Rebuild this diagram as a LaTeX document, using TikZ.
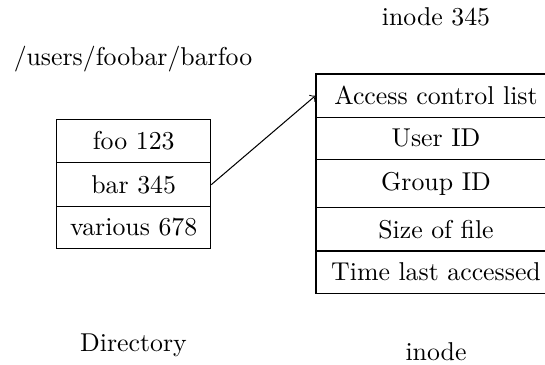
\documentclass[tikz,border=0pt]{standalone}
\usetikzlibrary{arrows}
\newcommand{\pxu}{0.3876pt}
\begin{document}
\begin{tikzpicture}[x=0.3876pt, y=-0.3876pt, line width=0.4pt,
  cell/.style={draw, inner sep=0pt, minimum width=#1*\pxu},
  dcell/.style={cell=154},
  icell/.style={cell=240},
  label/.style={anchor=base, inner sep=0pt}]
  \useasboundingbox (0,0) rectangle (545,364);

  % headings
  \node[label] (ihead) at (436,26) {inode 345};
  \node[label] (path) at (133,65.2) {/users/foobar/barfoo};
  \node[label] (dirlbl) at (133.5,351) {Directory};
  \node[label] (inolbl) at (436,360) {inode};

  % directory entries
  \node[dcell, minimum height=43.4*\pxu] (d1) at (133.7,141.0) {foo 123};
  \node[dcell, minimum height=44.0*\pxu] (d2) at (133.7,184.7) {bar 345};
  \node[dcell, minimum height=41.6*\pxu] (d3) at (133.7,227.5) {various 678};

  % inode fields
  \node[icell, minimum height=43.3*\pxu] (i1) at (436,95.65) {Access control list};
  \node[icell, minimum height=42.0*\pxu] (i2) at (436,138.3) {User ID};
  \node[icell, minimum height=48.4*\pxu] (i3) at (436,183.5) {Group ID};
  \node[icell, minimum height=43.3*\pxu] (i4) at (436,229.35) {Size of file};
  \node[icell, minimum height=42.3*\pxu] (i5) at (436,272.15) {Time last accessed};

  % directory entry points to its inode
  \draw[->] (d2.east) -- (i1.west);
\end{tikzpicture}
\end{document}
